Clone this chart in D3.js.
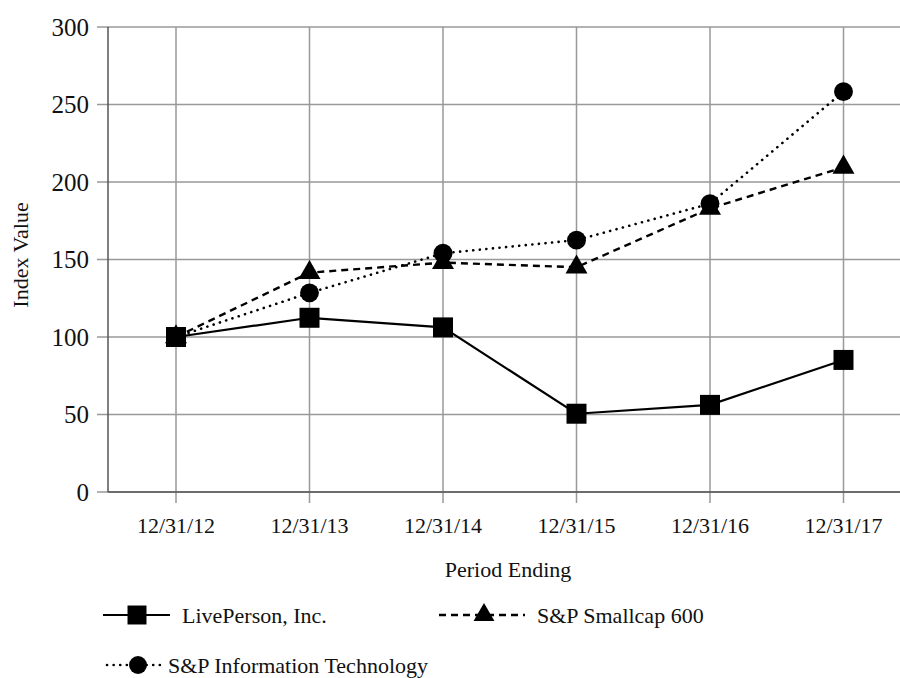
<!DOCTYPE html>
<html><head><meta charset="utf-8">
<script src="https://cdn.jsdelivr.net/npm/d3@7"></script>
<style>body{margin:0;background:#fff}svg{display:block}</style>
</head><body><svg id="c" width="900" height="678" font-family="'Liberation Serif', 'Times New Roman', serif"></svg>
<script>
const periods = ["12/31/12","12/31/13","12/31/14","12/31/15","12/31/16","12/31/17"];
const livePerson = [100, 112.4, 106.2, 50.5, 56.2, 85.2];
const smallcap600 = [100, 141.5, 148, 145, 183, 209.5];
const infoTech = [100, 128.5, 154, 162.5, 186, 258.3];
const yTicks = [0, 50, 100, 150, 200, 250, 300];
const seriesNames = ["LivePerson, Inc.", "S&P Smallcap 600", "S&P Information Technology"];

(function(){
const FONT = "'Liberation Serif', 'Times New Roman', serif";
const svg = d3.select("#c");
const pLeft = 108, pTop = 27, pBottom = 492, pRight = 900;
const x = d3.scaleLinear().domain([0, 5]).range([176, 843.5]);
const y = d3.scaleLinear().domain([0, 300]).range([pBottom, pTop]);

svg.append("g").selectAll("line").data(yTicks).join("line")
  .attr("x1", 97).attr("x2", pRight).attr("y1", d => y(d)).attr("y2", d => y(d))
  .attr("stroke", "#999").attr("stroke-width", 1.5);
svg.append("g").selectAll("line").data(periods).join("line")
  .attr("x1", (d,i) => x(i)).attr("x2", (d,i) => x(i)).attr("y1", pTop).attr("y2", 503)
  .attr("stroke", "#999").attr("stroke-width", 1.5);
svg.append("line").attr("x1", pLeft).attr("x2", pLeft).attr("y1", pTop).attr("y2", pBottom)
  .attr("stroke", "#555").attr("stroke-width", 1.5);
svg.append("line").attr("x1", pLeft).attr("x2", pRight).attr("y1", pBottom).attr("y2", pBottom)
  .attr("stroke", "#555").attr("stroke-width", 1.5);

svg.append("g").selectAll("text").data(yTicks).join("text")
  .attr("x", 89).attr("y", d => y(d) + 8.5).attr("text-anchor", "end")
  .attr("font-family", FONT).attr("font-size", 25).attr("fill", "#111").text(d => d);
svg.append("g").selectAll("text").data(periods).join("text")
  .attr("x", (d,i) => x(i)).attr("y", 533).attr("text-anchor", "middle")
  .attr("font-family", FONT).attr("font-size", 22).attr("fill", "#111").text(d => d);
svg.append("text").attr("x", 508).attr("y", 577).attr("text-anchor", "middle")
  .attr("font-family", FONT).attr("font-size", 22).attr("fill", "#111").text("Period Ending");
svg.append("text").attr("transform", "translate(28,255) rotate(-90)").attr("text-anchor", "middle")
  .attr("font-family", FONT).attr("font-size", 22).attr("fill", "#111").text("Index Value");

const line = d3.line().x((d,i) => x(i)).y(d => y(d));
const styles = [
  {data: livePerson, dash: null, width: 2.2, sym: d3.symbolSquare, size: 400, cap: "butt"},
  {data: smallcap600, dash: "7,5", width: 2.4, sym: d3.symbolTriangle, size: 210, cap: "butt"},
  {data: infoTech, dash: "0.1,6.5", width: 2.6, sym: d3.symbolCircle, size: 280, cap: "round"}
];
styles.forEach(s => {
  svg.append("path").datum(s.data).attr("d", line).attr("fill", "none")
    .attr("stroke", "#000").attr("stroke-width", s.width)
    .attr("stroke-dasharray", s.dash).attr("stroke-linecap", s.cap);
});
styles.forEach(s => {
  svg.append("g").selectAll("path").data(s.data).join("path")
    .attr("transform", (d,i) => `translate(${x(i)},${y(d)})`)
    .attr("d", d3.symbol().type(s.sym).size(s.size)).attr("fill", "#000");
});

const leg = [
  {x1: 103, x2: 170, cx: 137, y: 615, tx: 182},
  {x1: 439, x2: 525, cx: 484, y: 615, tx: 537},
  {x1: 107, x2: 160, cx: 138, y: 665, tx: 168}
];
leg.forEach((l, k) => {
  const s = styles[k];
  const g = svg.append("g");
  g.append("line").attr("x1", l.x1).attr("x2", l.x2).attr("y1", l.y).attr("y2", l.y)
    .attr("stroke", "#000").attr("stroke-width", s.width).attr("stroke-dasharray", s.dash)
    .attr("stroke-linecap", s.cap);
  g.append("path").attr("transform", `translate(${l.cx},${l.y})`)
    .attr("d", d3.symbol().type(s.sym).size(s.size * 0.9)).attr("fill", "#000");
  g.append("text").attr("x", l.tx).attr("y", l.y + 8).attr("font-family", FONT)
    .attr("font-size", 22).attr("fill", "#111").text(seriesNames[k]);
});
})();
</script></body></html>
